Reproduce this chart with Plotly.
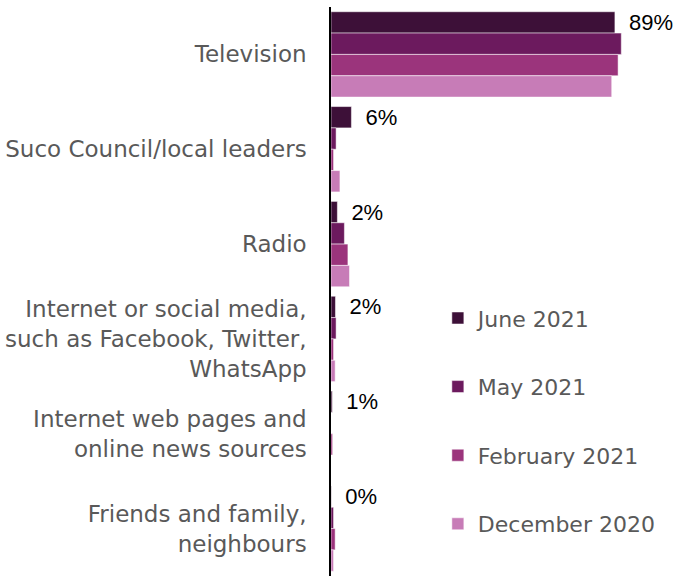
import plotly.graph_objects as go

categories = [
    "Television",
    "Suco Council/local leaders",
    "Radio",
    "Internet or social media,<br>such as Facebook, Twitter,<br>WhatsApp",
    "Internet web pages and<br>online news sources",
    "Friends and family,<br>neighbours",
]
series_names = ["June 2021", "May 2021", "February 2021", "December 2020"]
june_2021 = [89, 6.4, 2, 1.4, 0.4, 0.1]
may_2021 = [91, 1.6, 4.2, 1.6, 0, 0.8]
feb_2021 = [90, 0.8, 5.3, 0.8, 0.5, 1.3]
dec_2020 = [88, 2.8, 5.8, 1.3, 0, 0.8]
june_labels = ["89%", "6%", "2%", "2%", "1%", "0%"]
colors = ["#3D1038", "#6C1A5E", "#9B347C", "#C77CB7"]

fig = go.Figure()
all_values = [june_2021, may_2021, feb_2021, dec_2020]
for i, (name, vals, col) in enumerate(zip(series_names, all_values, colors)):
    kw = {}
    if i == 0:
        kw = dict(
            text=["\u2002" + t for t in june_labels],
            textposition="outside",
            textfont=dict(family="Liberation Sans", size=22, color="black"),
            constraintext="none",
            cliponaxis=False,
        )
    fig.add_trace(go.Bar(
        y=categories, x=vals, name=name, orientation="h",
        marker=dict(color=col, line=dict(color="rgba(255,255,255,0.5)", width=1)),
        legendgroup=name,
        **kw,
    ))

fig.update_layout(
    width=675, height=576,
    margin=dict(l=331, r=25, t=7, b=0, autoexpand=False),
    paper_bgcolor="white", plot_bgcolor="white",
    barmode="group", bargap=0.1, bargroupgap=0,
    font=dict(family="DejaVu Sans", size=23, color="#595959"),
    xaxis=dict(range=[0, 100], visible=False, automargin=False),
    yaxis=dict(
        autorange="reversed", showline=True, linecolor="black", linewidth=1.5,
        ticks="", ticklabelstandoff=18, showgrid=False, automargin=False,
        tickfont=dict(family="DejaVu Sans", size=23, color="#595959"),
    ),
    legend=dict(
        x=0.335, y=0.49, xanchor="left", yanchor="top",
        tracegroupgap=37, traceorder="grouped", itemwidth=30,
        font=dict(family="DejaVu Sans", size=22, color="#595959"),
        bgcolor="rgba(0,0,0,0)",
    ),
    showlegend=True,
)

fig.write_html(
    "out.html",
    config={"displayModeBar": False},
    post_script="document.body.style.margin='0';document.body.style.padding='0';",
)
